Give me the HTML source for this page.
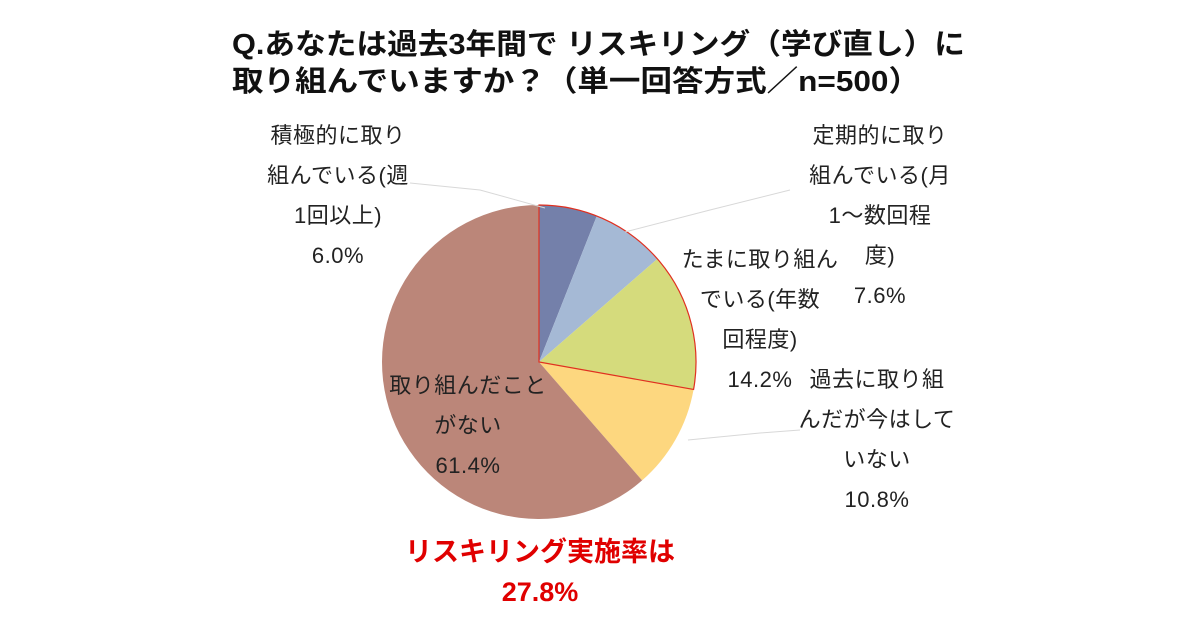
<!DOCTYPE html>
<html><head><meta charset="utf-8"><style>
body{margin:0;width:1200px;height:628px;background:#fff;overflow:hidden;font-family:"Liberation Sans","Noto Sans CJK JP",sans-serif}
svg text{font-family:"Liberation Sans","Noto Sans CJK JP",sans-serif}
</style></head><body>
<svg id="c" width="1200" height="628">
<text x="232" y="54" font-size="29" font-weight="bold" fill="#111" textLength="733" lengthAdjust="spacingAndGlyphs">Q.あなたは過去3年間で リスキリング（学び直し）に</text>
<text x="232" y="91" font-size="29" font-weight="bold" fill="#111" textLength="688" lengthAdjust="spacingAndGlyphs">取り組んでいますか？（単一回答方式／n=500）</text>
<g id="slices"></g>
<g id="lines" stroke="#d8d8d8" stroke-width="1" fill="none">
<polyline points="410,183 480,190 545,208"/>
<polyline points="790,190 710,210 625,232"/>
<polyline points="800,430 760,433 688,440"/>
</g>
<g font-size="22" fill="#222" text-anchor="middle" letter-spacing="0.5">
<g><text x="338" y="143">積極的に取り</text><text x="338" y="183">組んでいる(週</text><text x="338" y="223">1回以上)</text><text x="338" y="263">6.0%</text></g>
<g><text x="880" y="143">定期的に取り</text><text x="880" y="183">組んでいる(月</text><text x="880" y="223">1～数回程</text><text x="880" y="263">度)</text><text x="880" y="303">7.6%</text></g>
<g><text x="760" y="267">たまに取り組ん</text><text x="760" y="307">でいる(年数</text><text x="760" y="347">回程度)</text><text x="760" y="387">14.2%</text></g>
<g><text x="877" y="387">過去に取り組</text><text x="877" y="427">んだが今はして</text><text x="877" y="467">いない</text><text x="877" y="507">10.8%</text></g>
<g><text x="468" y="393">取り組んだこと</text><text x="468" y="433">がない</text><text x="468" y="473">61.4%</text></g>
</g>
<g font-size="27" font-weight="bold" fill="#e00000" text-anchor="middle">
<text x="540" y="561">リスキリング実施率は</text><text x="540" y="601">27.8%</text></g>
</svg>
<script>
const categories=["週1回以上","月1～数回程度","年数回程度","過去に取り組んだ","取り組んだことがない"];
const values=[6.0,7.6,14.2,10.8,61.4];
const colors=["#7480aa","#a5b9d5","#d5db7c","#fdd77f","#bb8679"];
const cx=539,cy=362,r=157;
const g=document.getElementById('slices');
const NS="http://www.w3.org/2000/svg";
const total=values.reduce((a,b)=>a+b,0);
function pt(f){const a=f*2*Math.PI-Math.PI/2;return [cx+r*Math.cos(a),cy+r*Math.sin(a)];}
function arc(f0,f1){const p0=pt(f0),p1=pt(f1);const lg=(f1-f0)>0.5?1:0;return `M${cx},${cy}L${p0[0]},${p0[1]}A${r},${r} 0 ${lg} 1 ${p1[0]},${p1[1]}Z`;}
let acc=0;
values.forEach((v,i)=>{const f0=acc/total;acc+=v;const f1=acc/total;
const p=document.createElementNS(NS,'path');p.setAttribute('d',arc(f0,f1));p.setAttribute('fill',colors[i]);


g.appendChild(p);});
const s=(values[0]+values[1]+values[2])/total;
const o=document.createElementNS(NS,'path');o.setAttribute('d',arc(0,s));o.setAttribute('fill','none');o.setAttribute('stroke','#e03020');o.setAttribute('stroke-width','1.2');


g.appendChild(o);
</script>
</body></html>
